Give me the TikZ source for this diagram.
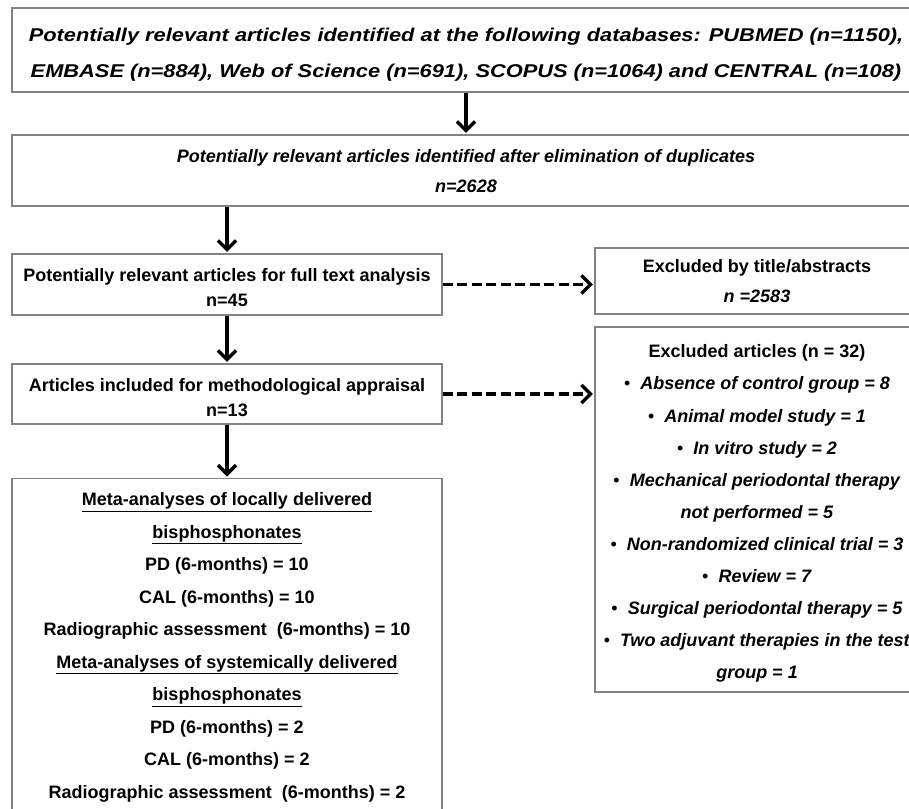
\documentclass[tikz,border=0pt]{standalone}
\usepackage{fontspec}
\setmainfont{Liberation Sans}
\newfontfamily\widesans[FakeStretch=1.18]{Liberation Sans}
\usetikzlibrary{arrows.meta, positioning, calc}
\definecolor{frame}{RGB}{130,130,130}
\newcommand{\padtop}[1]{\rule{0pt}{#1}}

\tikzset{
  box/.style={draw=frame, line width=1.3pt, fill=white, align=center, inner sep=0pt},
  flow/.style={line width=3.4pt, shorten >=1.5pt, -{Straight Barb[length=9pt,width=18pt]}},
  skip/.style={flow, dash pattern=on 10pt off 4.5pt},
}

\begin{document}
\begin{tikzpicture}[x=1pt, y=-1pt]
  \fill[white] (0,0) rectangle (909,808);
  \useasboundingbox (0,0) rectangle (909,808);

  % search and duplicates
  \node[box, minimum width=908pt, minimum height=84pt,
        font=\widesans\fontsize{18.5}{36}\selectfont\bfseries\itshape] (dbs) at (466,50)
    {\padtop{23.6pt}Potentially relevant articles identified at the following databases: PUBMED (n=1150),\\
     EMBASE (n=884), Web of Science (n=691), SCOPUS (n=1064) and CENTRAL (n=108)};
  \node[box, minimum width=908pt, minimum height=71pt,
        font=\fontsize{18}{30}\selectfont\bfseries\itshape] (dup) at (466,170.5)
    {\padtop{14pt}Potentially relevant articles identified after elimination of duplicates\\ n=2628};

  % left column
  \node[box, minimum width=430pt, minimum height=61pt,
        font=\fontsize{18}{25}\selectfont\bfseries] (full) at (227,284.5)
    {\padtop{20pt}Potentially relevant articles for full text analysis\\ n=45};
  \node[box, minimum width=430pt, minimum height=60pt,
        font=\fontsize{18}{25}\selectfont\bfseries] (appr) at (227,394)
    {\padtop{21pt}Articles included for methodological appraisal\\ n=13};
  \node[box, anchor=north, minimum width=430pt, minimum height=337.5pt,
        font=\fontsize{18}{32.5}\selectfont\bfseries] (meta) at (227,478)
    {\underline{Meta-analyses of locally delivered}\\
     \underline{bisphosphonates}\\
     PD (6-months) = 10\\
     CAL (6-months) = 10\\
     Radiographic assessment\ \ (6-months) = 10\\
     \underline{Meta-analyses of systemically delivered}\\
     \underline{bisphosphonates}\\
     PD (6-months) = 2\\
     CAL (6-months) = 2\\
     Radiographic assessment\ \ (6-months) = 2};

  % right column
  \node[box, minimum width=324pt, minimum height=66pt,
        font=\fontsize{18}{30}\selectfont\bfseries] (title) at (757,281)
    {\padtop{14pt}Excluded by title/abstracts\\ \textit{n =2583}};
  \node[box, minimum width=324pt, minimum height=365pt,
        font=\fontsize{18}{32.1}\selectfont\bfseries] (excl) at (757,509.5)
    {\padtop{21.5pt}Excluded articles (n = 32)\\
     {\mdseries •}\ \ \textit{Absence of control group = 8}\\
     {\mdseries •}\ \ \textit{Animal model study = 1}\\
     {\mdseries •}\ \ \textit{In vitro study = 2}\\
     {\mdseries •}\ \ \textit{Mechanical periodontal therapy}\\
     \textit{not performed = 5}\\
     {\mdseries •}\ \ \textit{Non-randomized clinical trial = 3}\\
     {\mdseries •}\ \ \textit{Review = 7}\\
     {\mdseries •}\ \ \textit{Surgical periodontal therapy = 5}\\
     {\mdseries •}\ \ \textit{Two adjuvant therapies in the test}\\
     \textit{group = 1}};

  % connectors
  \draw[flow] (dbs) -- (dup);
  \draw[flow] (dup.south -| full.north) -- (full.north);
  \draw[flow] (full) -- (appr);
  \draw[flow] (appr) -- (meta);
  \draw[skip] (full.east) -- (full.east -| title.west);
  \draw[skip] (appr.east) -- (appr.east -| excl.west);
\end{tikzpicture}
\end{document}
